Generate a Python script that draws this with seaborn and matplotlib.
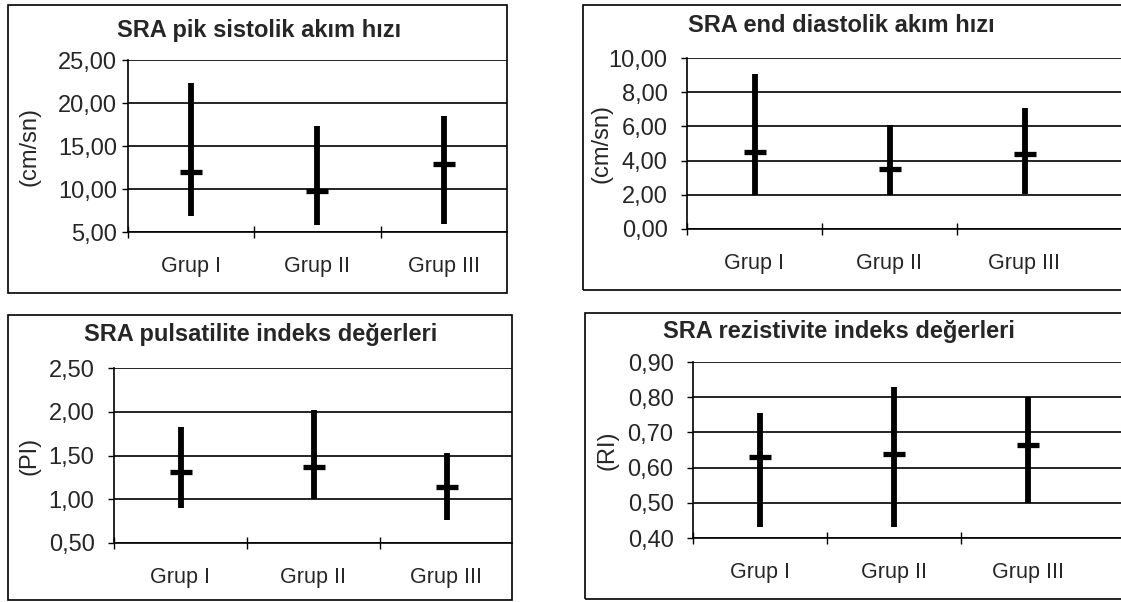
import numpy as np
import pandas as pd
import seaborn as sns
import matplotlib.pyplot as plt
from matplotlib.patches import Rectangle
from matplotlib.ticker import FixedLocator, FuncFormatter

groups = ["Grup I", "Grup II", "Grup III"]

psv_mean = [12.0, 9.8, 12.9]
psv_min = [6.9, 5.8, 5.9]
psv_max = [22.3, 17.3, 18.5]

edv_mean = [4.5, 3.5, 4.4]
edv_min = [2.0, 2.0, 2.05]
edv_max = [9.05, 6.1, 7.1]

pi_mean = [1.31, 1.37, 1.14]
pi_min = [0.90, 1.00, 0.76]
pi_max = [1.83, 2.02, 1.53]

ri_mean = [0.63, 0.64, 0.665]
ri_min = [0.43, 0.43, 0.50]
ri_max = [0.755, 0.83, 0.80]

titles = ["SRA pik sistolik akım hızı", "SRA end diastolik akım hızı",
          "SRA pulsatilite indeks değerleri", "SRA rezistivite indeks değerleri"]
ylabels = ["(cm/sn)", "(cm/sn)", "(PI)", "(RI)"]
yticks = [[5, 10, 15, 20, 25], [0, 2, 4, 6, 8, 10],
          [0.5, 1.0, 1.5, 2.0, 2.5], [0.4, 0.5, 0.6, 0.7, 0.8, 0.9]]

sns.set_style("white")
plt.rcParams['font.family'] = ['Liberation Sans', 'DejaVu Sans']

W, H = 1121, 602
fig = plt.figure(figsize=(W / 100, H / 100), dpi=100)

# pixel layout: plot area (left, top, right, bottom), category width, frame box, title pos, ylabel x
panels = [
    dict(plot=(128, 60, 507, 232), cat=126.3, box=(8, 5, 507, 293), title=(259, 30), ylab=30, pad=4),
    dict(plot=(687, 58, 1121, 229), cat=135, box=(583, 5, 1125, 290), title=(841, 25), ylab=602, pad=10),
    dict(plot=(114, 368, 512, 543), cat=133, box=(8, 315, 512, 600), title=(261, 335), ylab=30, pad=10),
    dict(plot=(693, 362, 1121, 538), cat=134, box=(585, 313, 1125, 599), title=(839, 332), ylab=607, pad=10),
]
series = [(psv_mean, psv_min, psv_max), (edv_mean, edv_min, edv_max),
          (pi_mean, pi_min, pi_max), (ri_mean, ri_min, ri_max)]

def fmt(v, pos):
    return f"{v:.2f}".replace('.', ',')

for i, p in enumerate(panels):
    l, t, r, b = p["plot"]
    ax = fig.add_axes([l / W, 1 - b / H, (r - l) / W, (b - t) / H])
    means, lows, highs = series[i]
    df = pd.DataFrame({"grup": groups, "mean": means})

    ax.vlines(range(len(groups)), lows, highs, color="black", linewidth=4.2, zorder=3)
    sns.scatterplot(data=df, x="grup", y="mean", ax=ax, marker="_", s=250,
                    color="black", linewidth=3.8, zorder=4, legend=False)

    ax.set_xlim(-0.5, -0.5 + (r - l) / p["cat"])
    ax.set_ylim(yticks[i][0], yticks[i][-1])
    ax.set_yticks(yticks[i])
    ax.yaxis.set_major_formatter(FuncFormatter(fmt))
    ax.yaxis.grid(True, color="black", linewidth=1.2)
    ax.set_axisbelow(True)

    ax.set_xticks(range(len(groups)))
    ax.set_xticklabels(groups)
    ax.xaxis.set_minor_locator(FixedLocator([-0.5, 0.5, 1.5]))
    ax.tick_params(axis="x", which="major", length=0, pad=17, labelsize=15.5)
    ax.tick_params(axis="x", which="minor", length=9, width=1, direction="inout",
                   color="black", bottom=True)
    ax.tick_params(axis="y", length=4, width=1, color="black", direction="out",
                   labelsize=17, pad=p["pad"], left=True)

    for side in ["right", "top"]:
        ax.spines[side].set_visible(False)
    for side in ["left", "bottom"]:
        ax.spines[side].set_color("black")
        ax.spines[side].set_linewidth(1.2)

    ax.set_xlabel("")
    ax.set_ylabel("")

    fig.text(p["title"][0] / W, 1 - p["title"][1] / H, titles[i], ha="center", va="center",
             fontsize=17, fontweight="bold")
    fig.text(p["ylab"] / W, 1 - ((t + b) / 2) / H, ylabels[i], ha="center", va="center",
             rotation=90, fontsize=17)

    bx0, by0, bx1, by1 = p["box"]
    fig.patches.append(Rectangle((bx0 / W, 1 - by1 / H), (bx1 - bx0) / W, (by1 - by0) / H,
                                 transform=fig.transFigure, fill=False,
                                 edgecolor="black", linewidth=1.2))

fig.savefig("out.png", dpi=100, facecolor="white")
